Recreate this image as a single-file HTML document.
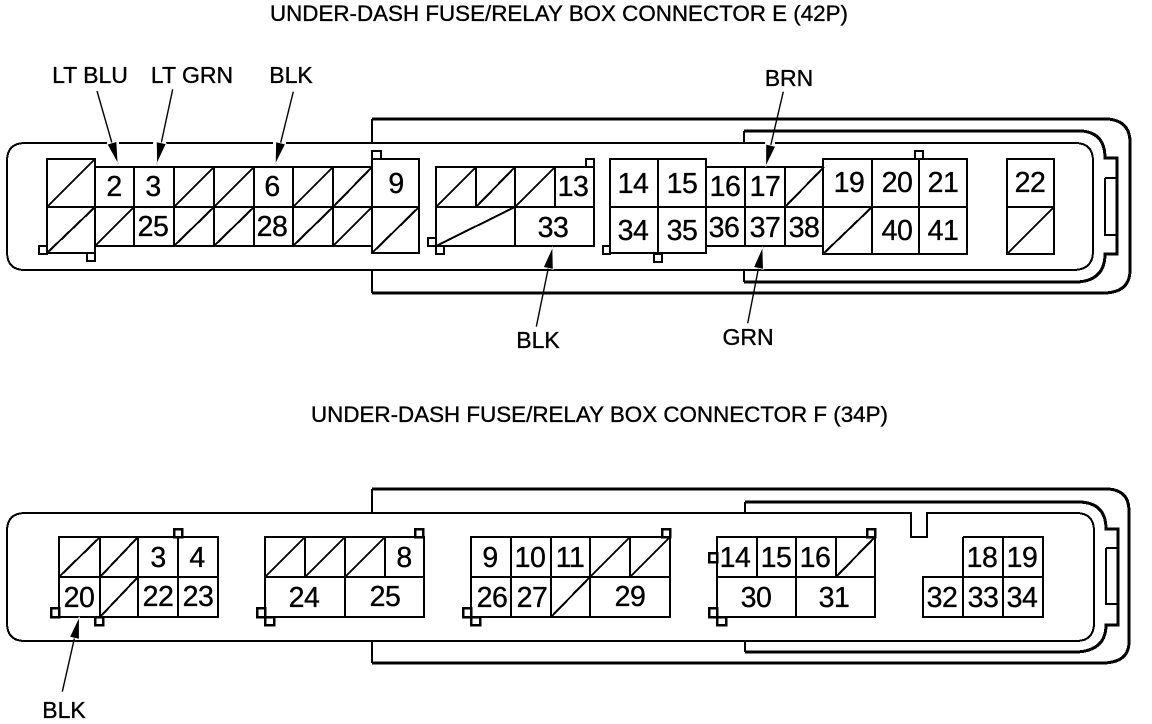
<!DOCTYPE html>
<html><head><meta charset="utf-8"><style>
html,body{margin:0;padding:0;background:#fff;width:1152px;height:724px;overflow:hidden}
svg{display:block}
text{font-family:"Liberation Sans",sans-serif;fill:#000;stroke:#000;stroke-width:.35px}
.n{font-size:28.5px;letter-spacing:-.5px;text-anchor:middle}
.l{font-size:23px;text-anchor:middle}
.t{font-size:22.5px}
</style></head><body>
<svg width="1152" height="724" viewBox="0 0 1152 724" xmlns="http://www.w3.org/2000/svg">
<defs><marker id="a" markerUnits="userSpaceOnUse" markerWidth="32" markerHeight="20" refX="26" refY="10" orient="auto"><path d="M4 5L26 10 4 15z" fill="#000" stroke="#fff" stroke-width=".8"/></marker></defs>
<rect width="1152" height="724" fill="#fff"/>
<g fill="none" stroke="#000" shape-rendering="crispEdges">
<!-- Connector E housing -->
<path stroke-width="2" d="M25 143H1075Q1093 143 1093 161V251Q1093 269 1075 270H25Q7 270 7 252V161Q7 143 25 143Z"/>
<path stroke-width="3" d="M744 131H1082Q1105 133 1105 158H1117V254H1105Q1105 280 1078 282H744"/>
<path stroke-width="3" d="M372 119H1108Q1130 121 1130 142V270Q1130 292 1105 293H372"/>
<path stroke-width="2" d="M744 143V131M744 270V282M372 143V119M372 270V293"/>
<path stroke-width="2" d="M1105 178H1117M1105 178V235H1117"/>
<!-- Connector E cells -->
<g stroke-width="2">
<path d="M95 167H372M95 246H372M95 207H372M134 167V246M174 167V246M214 167V246M254 167V246M293 167V246M333 167V246"/>
<path stroke-width="2.4" d="M47 159H95V253H47ZM372 159H419V253H372Z"/>
<path d="M47 207H95M372 207H419"/>
<path d="M436 167H594V246H436ZM436 207H594M476 167V207M515 167V246M555 167V207"/>
<path stroke-width="2.4" d="M610 159H706V253H610ZM658 159V253"/>
<path d="M610 207H706M706 167H824M706 246H824M706 207H824M745 167V246M785 167V246"/>
<path stroke-width="2.4" d="M823 159H967V254H823ZM872 159V254"/>
<path d="M823 207H967M919 159V254M1007 159H1054V254H1007ZM1007 207H1054"/>
<!-- squares -->
<path fill="#fff" d="M39 246H47V254H39ZM87 253H95V261H87ZM372 151H381V159H372ZM586 159H594V167H586ZM428 238H436V246H428ZM436 246H444V254H436ZM603 246H610V254H603ZM654 254H662V262H654ZM915 151H923V159H915Z"/>
</g>
<!-- Connector E slashes -->
<path stroke-width="2" d="M47 207L95 159M47 253L95 207M95 246L134 207M174 207L214 167M214 207L254 167M293 207L333 167M333 207L372 167M174 246L214 207M214 246L254 207M293 246L333 207M333 246L372 207M372 253L419 207M436 207L476 167M476 207L515 167M515 207L555 167M436 246L515 207M785 207L824 167M823 254L872 207M1007 254L1054 207"/>

<!-- Connector F housing -->
<path stroke-width="2" d="M25 513H911V537H927V513H1076Q1094 513 1094 531V623Q1094 641 1076 641H25Q7 641 7 623V531Q7 513 25 513Z"/>
<path stroke-width="3" d="M745 502H1080Q1106 503 1106 529H1118V625H1106Q1106 650 1078 652H745"/>
<path stroke-width="3" d="M372 489H1108Q1129 490 1129 511V642Q1129 662 1104 663H372"/>
<path stroke-width="2" d="M745 513V502M745 641V652M372 513V489M372 641V663"/>
<path stroke-width="2" d="M1106 548H1118M1106 548V604H1118"/>
<!-- Connector F cells -->
<g stroke-width="2">
<path d="M59 537H218V617H59ZM59 577H218M100 537V617M138 537V617M178 537V617"/>
<path d="M265 537H424V617H265ZM265 577H424M305 537V577M345 537V617M385 537V577"/>
<path d="M471 537H670V617H471ZM471 577H670M511 537V617M551 537V617M590 537V617M630 537V577"/>
<path d="M717 537H875V617H717ZM717 577H875M757 537V577M796 537V617M836 537V577"/>
<path d="M963 537H1043V617H923V577H1043M963 537V617M1003 537V617"/>
<path fill="#fff" stroke-width="2.5" d="M174 529H182V537H174ZM51 608H59V617H51ZM95 617H103V625H95ZM415 529H423V537H415ZM257 608H265V617H257ZM265 617H274V625H265ZM662 529H670V537H662ZM463 608H471V617H463ZM471 617H480V625H471ZM867 529H875V537H867ZM709 553H717V562H709ZM709 608H717V617H709ZM717 617H726V625H717Z"/>
</g>
<!-- Connector F slashes -->
<path stroke-width="2" d="M59 577L100 537M100 577L138 537M100 617L138 577M265 577L305 537M305 577L345 537M345 577L385 537M590 577L630 537M630 577L670 537M551 617L590 577M836 577L875 537"/>
</g>
<!-- gaps in housing line around leaders -->
<g fill="#fff"><rect x="107" y="141" width="12" height="4"/><rect x="153" y="141" width="13" height="4"/><rect x="273" y="141" width="13" height="4"/><rect x="765" y="141" width="10" height="4"/></g>
<!-- leaders -->
<g stroke="#000" stroke-width="1.4" fill="none" marker-end="url(#a)">
<path d="M97 91L118 164"/>
<path d="M172.7 89.3L156.7 164.3"/>
<path d="M293.3 91.7L275.3 164.3"/>
<path d="M783.3 91.7L765.7 166.7"/>
<path d="M536.3 326.7L552.7 246.7"/>
<path d="M747.7 323.3L762.7 246.7"/>
<path d="M62.3 691.7L79.3 616.7"/>
</g>
<!-- titles -->
<text class="t" x="270" y="21" textLength="578" lengthAdjust="spacingAndGlyphs">UNDER-DASH FUSE/RELAY BOX CONNECTOR E (42P)</text>
<text class="t" x="311" y="422" textLength="577" lengthAdjust="spacingAndGlyphs">UNDER-DASH FUSE/RELAY BOX CONNECTOR F (34P)</text>
<!-- wire labels -->
<text class="l" x="90" y="83">LT BLU</text>
<text class="l" x="192" y="83">LT GRN</text>
<text class="l" x="291" y="83">BLK</text>
<text class="l" x="789" y="86">BRN</text>
<text class="l" x="538" y="348">BLK</text>
<text class="l" x="748" y="345">GRN</text>
<text class="l" x="64" y="718">BLK</text>
<!-- E numbers -->
<text class="n" x="114" y="196">2</text><text class="n" x="153" y="196">3</text><text class="n" x="272" y="196">6</text><text class="n" x="396" y="193">9</text>
<text class="n" x="153" y="236">25</text><text class="n" x="272" y="236">28</text>
<text class="n" x="573" y="196">13</text><text class="n" x="553" y="237">33</text>
<text class="n" x="633" y="193">14</text><text class="n" x="682" y="193">15</text><text class="n" x="633" y="240">34</text><text class="n" x="682" y="240">35</text>
<text class="n" x="725" y="196">16</text><text class="n" x="765" y="196">17</text><text class="n" x="724" y="237">36</text><text class="n" x="765" y="237">37</text><text class="n" x="804" y="237">38</text>
<text class="n" x="849" y="192">19</text><text class="n" x="897" y="192">20</text><text class="n" x="943" y="192">21</text><text class="n" x="897" y="240">40</text><text class="n" x="943" y="240">41</text><text class="n" x="1030" y="192">22</text>
<!-- F numbers -->
<text class="n" x="158" y="567">3</text><text class="n" x="197" y="567">4</text><text class="n" x="79" y="607">20</text><text class="n" x="158" y="606">22</text><text class="n" x="198" y="606">23</text>
<text class="n" x="404" y="567">8</text><text class="n" x="304" y="607">24</text><text class="n" x="385" y="606">25</text>
<text class="n" x="490" y="567">9</text><text class="n" x="530" y="567">10</text><text class="n" x="570" y="567">11</text><text class="n" x="492" y="607">26</text><text class="n" x="532" y="607">27</text><text class="n" x="630" y="606">29</text>
<text class="n" x="735" y="567">14</text><text class="n" x="776" y="567">15</text><text class="n" x="815" y="567">16</text><text class="n" x="756" y="607">30</text><text class="n" x="834" y="607">31</text>
<text class="n" x="982" y="567">18</text><text class="n" x="1022" y="567">19</text><text class="n" x="942" y="607">32</text><text class="n" x="983" y="607">33</text><text class="n" x="1022" y="607">34</text>
</svg>
</body></html>
